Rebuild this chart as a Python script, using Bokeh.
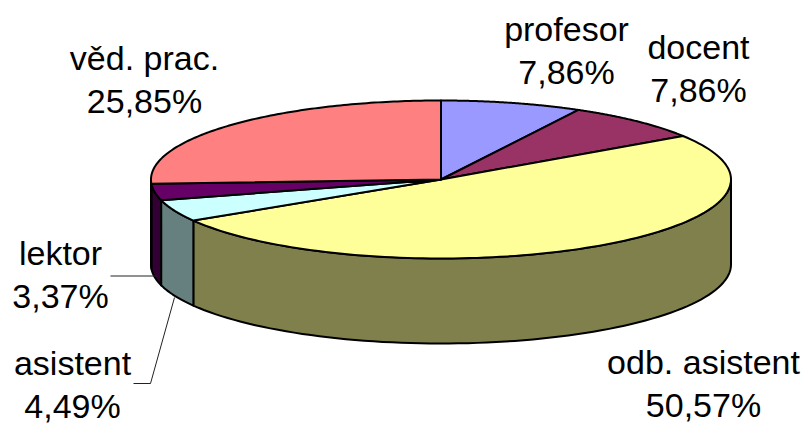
import numpy as np
from bokeh.plotting import figure
from bokeh.models import Range1d
from bokeh.core.properties import value
from bokeh.embed import file_html
from bokeh.resources import INLINE

# data
categories = ["profesor", "docent", "odb. asistent", "asistent", "lektor", "věd. prac."]
shares = [7.86, 7.86, 50.57, 4.49, 3.37, 25.85]
share_labels = ["7,86%", "7,86%", "50,57%", "4,49%", "3,37%", "25,85%"]

# style
top_colors = ["#9999FF", "#993366", "#FFFF99", "#CCFFFF", "#660066", "#FF8080"]
side_colors = ["#4C4C80", "#4C1933", "#80804C", "#668080", "#330033", "#804040"]

# layout (image pixels)
CX, CY, RX, RY, DEPTH = 440.5, 179.0, 290.0, 79.0, 85.0
label_x = [566, 698, 703, 72, 60, 144]
label_y = [28, 46, 361, 362, 252, 57]
LINE_GAP = 43
FONT = "34px"

p = figure(width=804, height=423, output_backend="svg", toolbar_location=None,
           x_range=Range1d(0, 804), y_range=Range1d(423, 0),
           min_border=0, outline_line_color=None)
p.axis.visible = False
p.grid.visible = False


def pt(theta, dy=0.0):
    """theta: radians clockwise from 12 o'clock."""
    return CX + RX * np.sin(theta), CY - RY * np.cos(theta) + dy


total = sum(shares)
edges = np.radians(np.concatenate([[0], np.cumsum(shares)]) / total * 360)

# side walls (front half only)
for i in range(len(shares)):
    a = max(edges[i], np.pi / 2)
    b = min(edges[i + 1], 3 * np.pi / 2)
    if b <= a:
        continue
    t = np.linspace(a, b, 80)
    xu, yu = pt(t)
    xl, yl = pt(t[::-1], DEPTH)
    p.patch(np.concatenate([xu, xl]), np.concatenate([yu, yl]),
            fill_color=side_colors[i], line_color="black", line_width=2,
            line_join="round")

# top faces
for i in range(len(shares)):
    t = np.linspace(edges[i], edges[i + 1], 120)
    xu, yu = pt(t)
    p.patch(np.concatenate([[CX], xu]), np.concatenate([[CY], yu]),
            fill_color=top_colors[i], line_color="black", line_width=2,
            line_join="round")

# leader lines
p.line([110, 157], [275.5, 275.5], line_color="#222222", line_width=1)
p.line([133, 150, 174], [383, 383, 297], line_color="#222222", line_width=1)

# labels
for name, share, x, y in zip(categories, share_labels, label_x, label_y):
    for txt, yy in ((name, y), (share, y + LINE_GAP)):
        p.text([x], [yy], text=[txt], text_align="center", text_baseline="middle",
               text_font=value("Liberation Sans"), text_font_size=FONT,
               text_color="black")

open("out.html", "w").write(file_html(p, INLINE))
